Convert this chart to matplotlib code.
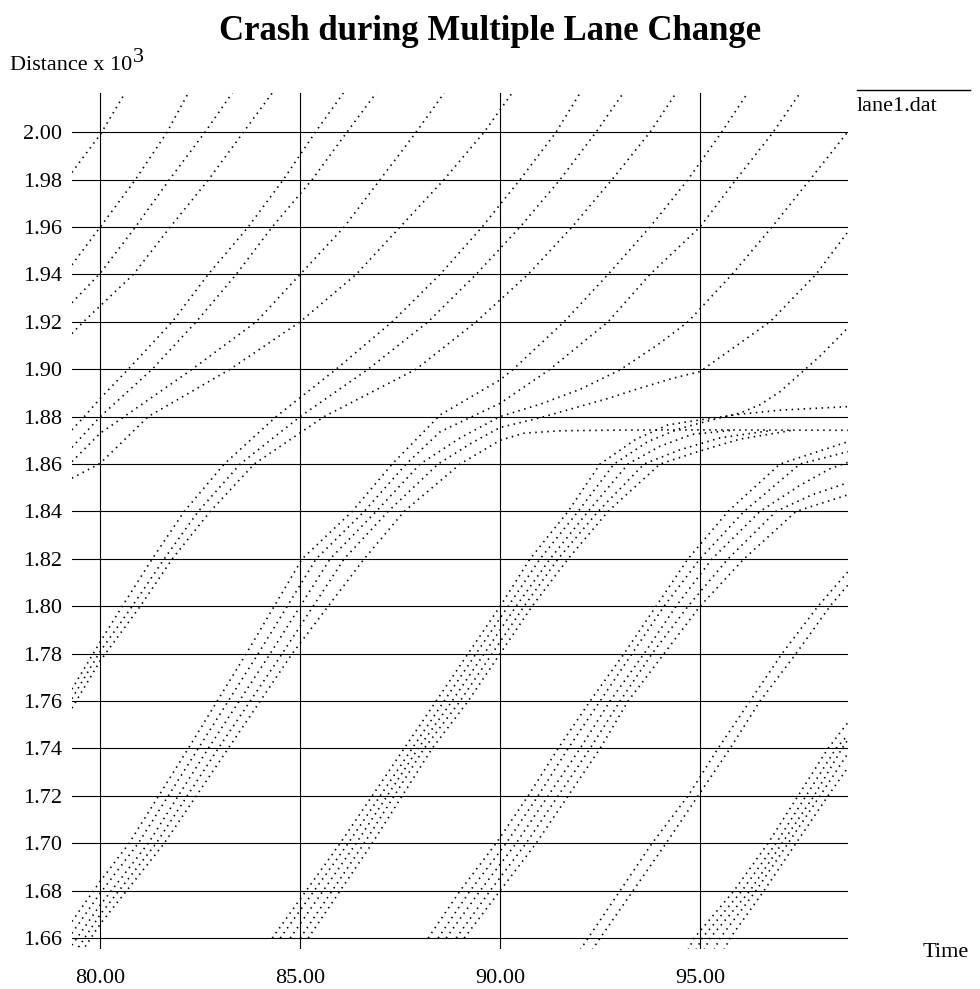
import matplotlib
matplotlib.use("Agg")
import matplotlib.pyplot as plt
from matplotlib.lines import Line2D

plt.rcParams['font.family'] = ['Liberation Serif', 'DejaVu Serif']

# ---- axis ticks -------------------------------------------------------
time_ticks = [80, 85, 90, 95]
time_labels = ["80.00", "85.00", "90.00", "95.00"]
dist_ticks = [1.66, 1.68, 1.70, 1.72, 1.74, 1.76, 1.78, 1.80, 1.82,
              1.84, 1.86, 1.88, 1.90, 1.92, 1.94, 1.96, 1.98, 2.00]
dist_labels = ["%.2f" % v for v in dist_ticks]

# ---- vehicle trajectories (time [s], distance [x 10^3 m]) --------------
# group already downstream at t=80
v01_t = [79.29, 80.0, 80.62]
v01_d = [1.983, 1.999, 2.0165]
v02_t = [79.29, 80.0, 80.88, 81.67, 82.2]
v02_d = [1.944, 1.960, 1.980, 2.000, 2.0165]
v03_t = [79.29, 80.0, 80.88, 81.73, 82.62, 83.3]
v03_d = [1.928, 1.9405, 1.960, 1.980, 2.000, 2.0165]
v04_t = [79.29, 79.58, 80.83, 81.75, 82.71, 83.58, 84.3]
v04_d = [1.915, 1.920, 1.940, 1.960, 1.980, 2.000, 2.0165]

# group passing the lane-change zone at t=80
v05_t = [79.29, 79.6, 80.0, 80.7, 81.8, 82.7, 83.7, 84.58, 85.38, 86.08]
v05_d = [1.8744, 1.880, 1.8877, 1.900, 1.920, 1.940, 1.960, 1.980, 2.000, 2.0165]
v06_t = [79.29, 80.0, 81.3, 82.4, 83.4, 84.3, 85.3, 86.17, 86.9]
v06_d = [1.867, 1.880, 1.900, 1.920, 1.940, 1.960, 1.980, 2.000, 2.0165]
v07_t = [79.29, 80.0, 80.6, 82.3, 83.9, 85.0, 86.1, 87.0, 87.9, 88.6]
v07_d = [1.861, 1.873, 1.880, 1.900, 1.920, 1.940, 1.960, 1.980, 2.000, 2.0165]
v08_t = [79.29, 80.0, 81.2, 83.25, 85.0, 86.4, 87.5, 88.6, 89.6, 90.3]
v08_d = [1.854, 1.8603, 1.880, 1.900, 1.920, 1.940, 1.960, 1.980, 2.000, 2.0165]

# platoon X
x1_t = [79.29, 80.0, 80.55, 81.3, 82.1, 83.1, 84.4, 85.9, 87.3, 88.5, 89.55, 90.5, 91.4, 92.0]
x1_d = [1.765, 1.785, 1.800, 1.820, 1.840, 1.860, 1.880, 1.900, 1.920, 1.940, 1.960, 1.980, 2.000, 2.0165]
x2_t = [79.29, 80.0, 80.8, 81.6, 82.45, 83.5, 85.0, 86.7, 88.2, 89.4, 90.5, 91.5, 92.4, 93.08]
x2_d = [1.761, 1.781, 1.800, 1.820, 1.840, 1.860, 1.880, 1.900, 1.920, 1.940, 1.960, 1.980, 2.000, 2.0165]
x3_t = [79.29, 80.0, 81.0, 81.8, 82.75, 83.85, 85.6, 87.9, 89.4, 90.7, 91.8, 92.8, 93.75, 94.4]
x3_d = [1.757, 1.777, 1.800, 1.820, 1.840, 1.860, 1.880, 1.900, 1.920, 1.940, 1.960, 1.980, 2.000, 2.0165]

# platoon A (reaches the crash site around t=90)
a1_t = [79.29, 80.0, 80.72, 82.2, 83.65, 85.05, 86.3, 87.3, 88.5, 90.0, 90.33, 91.6, 92.7, 93.75, 94.7, 95.54, 96.19]
a1_d = [1.667, 1.684, 1.700, 1.740, 1.780, 1.820, 1.840, 1.860, 1.8807, 1.8955, 1.900, 1.920, 1.940, 1.960, 1.980, 2.000, 2.0165]
a2_t = [79.29, 80.0, 80.95, 82.45, 83.95, 85.4, 86.6, 87.65, 88.5, 90.0, 91.25, 92.7, 93.75, 95.0, 95.9, 96.83, 97.5]
a2_d = [1.662, 1.679, 1.700, 1.740, 1.780, 1.820, 1.840, 1.860, 1.8736, 1.8856, 1.900, 1.920, 1.940, 1.960, 1.980, 2.000, 2.0165]
a3_t = [79.29, 80.0, 81.2, 82.7, 84.25, 85.75, 86.9, 88.0, 89.0, 90.0, 91.0, 92.0, 93.0, 94.0, 94.7, 95.8, 96.8, 97.75, 98.69]
a3_d = [1.657, 1.674, 1.700, 1.740, 1.780, 1.820, 1.840, 1.860, 1.871, 1.880, 1.8852, 1.8915, 1.8997, 1.911, 1.920, 1.940, 1.960, 1.980, 2.000]
a4_t = [79.29, 80.0, 81.4, 82.95, 84.55, 86.1, 87.2, 88.45, 89.3, 90.0, 91.0, 91.83, 92.67, 93.5, 94.33, 95.0, 96.75, 97.9, 98.7]
a4_d = [1.652, 1.670, 1.700, 1.740, 1.780, 1.820, 1.840, 1.860, 1.869, 1.8754, 1.8795, 1.8835, 1.8875, 1.892, 1.8962, 1.899, 1.920, 1.940, 1.958]
a5_t = [79.29, 80.0, 81.6, 83.2, 84.8, 86.6, 87.6, 89.0, 89.6, 90.0, 90.6, 91.5, 93.0, 95.0, 97.0, 98.7]
a5_d = [1.648, 1.666, 1.700, 1.740, 1.780, 1.820, 1.840, 1.860, 1.866, 1.870, 1.873, 1.874, 1.8743, 1.8744, 1.8743, 1.8742]

# platoon B (queues behind the crash)
b1_t = [84.3, 86.0, 87.6, 88.4, 89.2, 90.0, 90.75, 91.7, 92.5, 93.4, 94.2, 95.0, 96.0, 97.0, 98.7]
b1_d = [1.660, 1.700, 1.740, 1.760, 1.780, 1.800, 1.820, 1.840, 1.860, 1.8705, 1.8765, 1.8786, 1.881, 1.8827, 1.8842]
b2_t = [84.5, 86.2, 87.8, 88.6, 89.4, 90.2, 91.0, 91.95, 92.85, 93.7, 94.5, 95.3, 96.0, 96.5, 97.0, 97.5, 98.0, 98.7]
b2_d = [1.660, 1.700, 1.740, 1.760, 1.780, 1.800, 1.820, 1.840, 1.860, 1.8695, 1.875, 1.8786, 1.8815, 1.885, 1.8905, 1.898, 1.9055, 1.9175]
b3_t = [84.75, 86.4, 87.95, 88.8, 89.6, 90.4, 91.25, 92.2, 93.2, 94.0, 94.8, 95.8]
b3_d = [1.660, 1.700, 1.740, 1.760, 1.780, 1.800, 1.820, 1.840, 1.860, 1.8675, 1.8725, 1.8742]
b4_t = [85.0, 86.6, 88.1, 89.0, 89.8, 90.6, 91.45, 92.45, 93.6, 94.5, 95.5, 96.8]
b4_d = [1.660, 1.700, 1.740, 1.760, 1.780, 1.800, 1.820, 1.840, 1.860, 1.866, 1.871, 1.8742]
b5_t = [85.2, 86.8, 88.3, 89.2, 90.0, 90.8, 91.7, 92.7, 94.0, 95.0, 96.0, 97.3]
b5_d = [1.660, 1.700, 1.740, 1.760, 1.780, 1.800, 1.820, 1.840, 1.860, 1.8655, 1.8705, 1.8742]

# platoon C
c1_t = [88.2, 89.0, 89.9, 90.7, 91.45, 92.25, 93.1, 93.9, 94.7, 95.7, 97.0, 98.7]
c1_d = [1.660, 1.680, 1.700, 1.720, 1.740, 1.760, 1.780, 1.800, 1.820, 1.840, 1.860, 1.8694]
c2_t = [88.45, 89.25, 90.15, 90.95, 91.7, 92.5, 93.3, 94.1, 95.0, 96.1, 97.5, 98.7]
c2_d = [1.660, 1.680, 1.700, 1.720, 1.740, 1.760, 1.780, 1.800, 1.820, 1.840, 1.860, 1.8652]
c3_t = [88.65, 89.5, 90.4, 91.2, 92.0, 92.75, 93.6, 94.4, 95.3, 96.5, 97.5, 98.25, 98.7]
c3_d = [1.660, 1.680, 1.700, 1.720, 1.740, 1.760, 1.780, 1.800, 1.820, 1.840, 1.851, 1.858, 1.8607]
c4_t = [88.9, 89.75, 90.65, 91.45, 92.25, 93.0, 93.8, 94.7, 95.7, 96.9, 97.8, 98.7]
c4_d = [1.660, 1.680, 1.700, 1.720, 1.740, 1.760, 1.780, 1.800, 1.820, 1.840, 1.847, 1.8521]
c5_t = [89.1, 90.0, 90.9, 91.7, 92.5, 93.2, 94.1, 95.0, 96.1, 97.4, 98.7]
c5_d = [1.660, 1.680, 1.700, 1.720, 1.740, 1.760, 1.780, 1.800, 1.820, 1.840, 1.847]

# platoon D
d1_t = [92.0, 92.2, 93.8, 94.7, 95.45, 96.25, 97.05, 97.95, 98.7]
d1_d = [1.655, 1.660, 1.700, 1.720, 1.740, 1.760, 1.780, 1.800, 1.8146]
d2_t = [92.3, 92.5, 94.15, 94.95, 95.75, 96.5, 97.4, 98.25, 98.7]
d2_d = [1.655, 1.660, 1.700, 1.720, 1.740, 1.760, 1.780, 1.800, 1.809]

# platoon E
e1_t = [94.7, 94.85, 95.85, 96.7, 97.45, 98.2, 98.7]
e1_d = [1.655, 1.660, 1.680, 1.700, 1.720, 1.740, 1.751]
e2_t = [94.9, 95.05, 96.05, 96.9, 97.65, 98.4, 98.7]
e2_d = [1.655, 1.660, 1.680, 1.700, 1.720, 1.740, 1.7457]
e3_t = [95.1, 95.25, 96.25, 97.05, 97.85, 98.55, 98.7]
e3_d = [1.655, 1.660, 1.680, 1.700, 1.720, 1.740, 1.7437]
e4_t = [95.35, 95.5, 96.4, 97.2, 98.0, 98.7]
e4_d = [1.655, 1.660, 1.680, 1.700, 1.720, 1.738]
e5_t = [95.6, 95.75, 96.6, 97.4, 98.2, 98.7]
e5_d = [1.655, 1.660, 1.680, 1.700, 1.720, 1.732]

trajectories = [
    (v01_t, v01_d), (v02_t, v02_d), (v03_t, v03_d), (v04_t, v04_d),
    (v05_t, v05_d), (v06_t, v06_d), (v07_t, v07_d), (v08_t, v08_d),
    (x1_t, x1_d), (x2_t, x2_d), (x3_t, x3_d),
    (a1_t, a1_d), (a2_t, a2_d), (a3_t, a3_d), (a4_t, a4_d), (a5_t, a5_d),
    (b1_t, b1_d), (b2_t, b2_d), (b3_t, b3_d), (b4_t, b4_d), (b5_t, b5_d),
    (c1_t, c1_d), (c2_t, c2_d), (c3_t, c3_d), (c4_t, c4_d), (c5_t, c5_d),
    (d1_t, d1_d), (d2_t, d2_d),
    (e1_t, e1_d), (e2_t, e2_d), (e3_t, e3_d), (e4_t, e4_d), (e5_t, e5_d),
]

# ---- figure -----------------------------------------------------------
W, H = 980, 989
fig = plt.figure(figsize=(W / 100, H / 100), dpi=100)
ax = fig.add_axes([72 / W, 1 - 949 / H, (848 - 72) / W, (949 - 93) / H])
ax.set_xlim(79.2925, 98.7)
ax.set_ylim(1.6554, 2.0165)

for spine in ax.spines.values():
    spine.set_visible(False)

ax.set_xticks(time_ticks)
ax.set_xticklabels(time_labels)
ax.set_yticks(dist_ticks)
ax.set_yticklabels(dist_labels)
ax.tick_params(axis='both', length=0, labelsize=16)
ax.tick_params(axis='y', pad=7.2)
ax.tick_params(axis='x', pad=14.5)
ax.grid(True, color='black', linewidth=0.8)
ax.set_axisbelow(True)

for t, d in trajectories:
    ax.plot(t, d, color='black', linewidth=1.2, linestyle=(0, (0.9, 2.7)),
            dash_capstyle='butt')

# ---- text -------------------------------------------------------------
fig.text(490 / W, 1 - 40 / H, "Crash during Multiple Lane Change",
         fontsize=25, fontweight='bold', ha='center', va='baseline')

lbl = fig.text(10 / W, 1 - 70 / H, "Distance x 10", fontsize=16,
               ha='left', va='baseline')
fig.canvas.draw()
bb = lbl.get_window_extent()
fig.text(bb.x1 / W + 1 / W, 1 - 62 / H, "3", fontsize=16,
         ha='left', va='baseline')

fig.text(923 / W, 1 - 957 / H, "Time", fontsize=16, ha='left', va='baseline')

fig.text(857 / W, 1 - 111 / H, "lane1.dat", fontsize=16, ha='left',
         va='baseline')
fig.add_artist(Line2D([857 / W, 970 / W], [1 - 90 / H, 1 - 90 / H],
                      color='black', linewidth=1.0))

fig.savefig("out.png", dpi=100)
